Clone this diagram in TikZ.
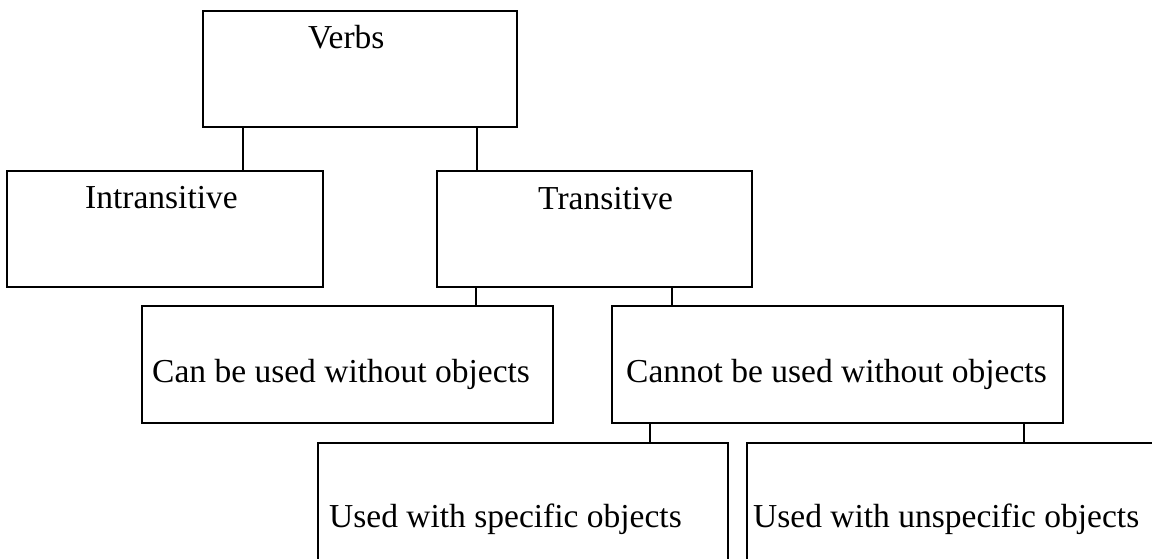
\documentclass[tikz,border=0pt]{standalone}
\usepackage{fontspec}
\setmainfont{Liberation Serif}
\begin{document}
\begin{tikzpicture}[x=1pt,y=-1pt,
  box/.style={draw=black, line width=2.4pt, rectangle, inner sep=0pt, line join=miter},
  lbl/.style={inner sep=0pt, anchor=base west, font=\fontsize{33.5}{40}\selectfont},
  link/.style={draw=black, line width=2.2pt}]
\useasboundingbox (0,0) rectangle (1152,559);
\clip (0,0) rectangle (1152,559);
% boxes
\node[box, minimum width=314pt, minimum height=116pt] (verbs) at (360,69) {};
\node[box, minimum width=316pt, minimum height=116pt] (intr) at (165,229) {};
\node[box, minimum width=315pt, minimum height=116pt] (trans) at (594.5,229) {};
\node[box, minimum width=411pt, minimum height=117pt] (can) at (347.5,364.5) {};
\node[box, minimum width=451pt, minimum height=117pt] (cannot) at (837.5,364.5) {};
\node[box, minimum width=410pt, minimum height=160pt] (spec) at (523,523) {};
\node[box, minimum width=460pt, minimum height=160pt] (unspec) at (977,523) {};
% texts
\node[lbl] (tverbs) at (308,49) {Verbs};
\node[lbl] (tintr) at (85,208) {Intransitive};
\node[lbl] (ttrans) at (538,209) {Transitive};
\node[lbl] (tcan) at (152,382) {Can be used without objects};
\node[lbl] (tcannot) at (626,382) {Cannot be used without objects};
\node[lbl] (tspec) at (329,527) {Used with specific objects};
\node[lbl] (tunspec) at (753,527) {Used with unspecific objects};
% connector x positions
\coordinate (x1) at (243,0);
\coordinate (x2) at (477,0);
\coordinate (x3) at (476,0);
\coordinate (x4) at (672,0);
\coordinate (x5) at (650,0);
\coordinate (x6) at (1024,0);
% connectors
\draw[link] (verbs.south -| x1) -- (intr.north -| x1);
\draw[link] (verbs.south -| x2) -- (trans.north -| x2);
\draw[link] (trans.south -| x3) -- (can.north -| x3);
\draw[link] (trans.south -| x4) -- (cannot.north -| x4);
\draw[link] (cannot.south -| x5) -- (spec.north -| x5);
\draw[link] (cannot.south -| x6) -- (unspec.north -| x6);
\end{tikzpicture}
\end{document}
